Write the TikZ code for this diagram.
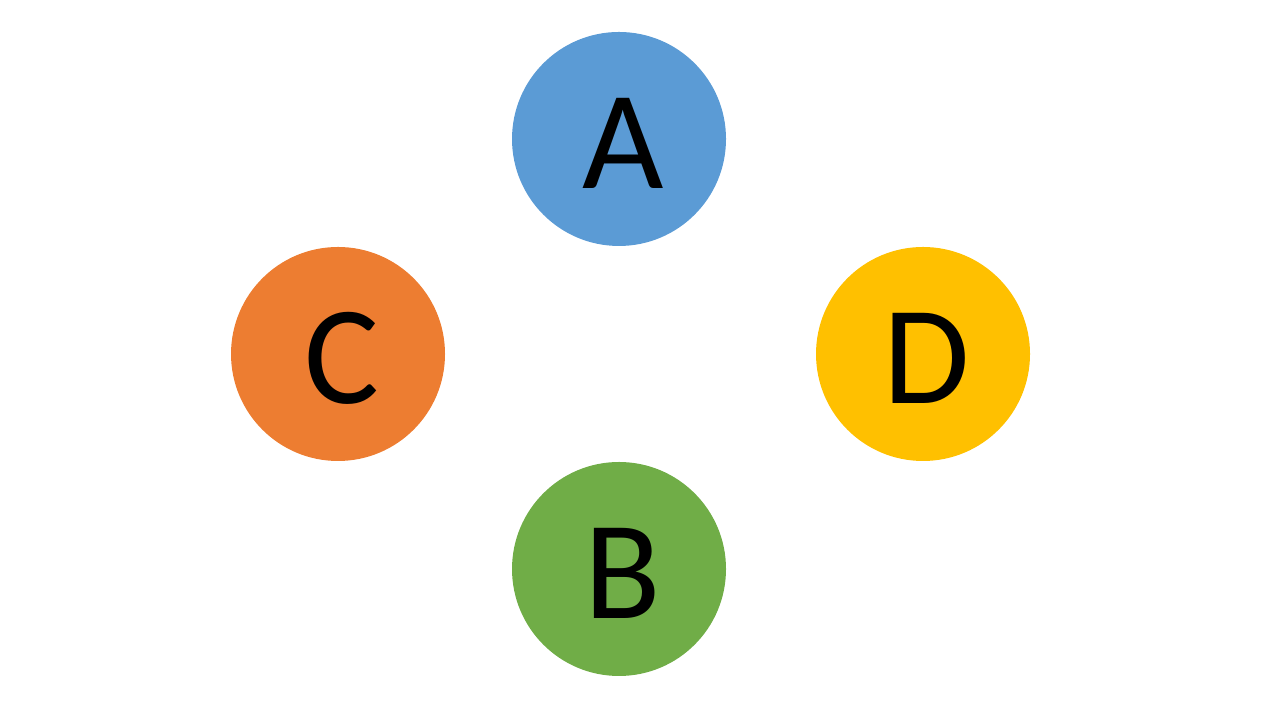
\documentclass[tikz,border=0pt]{standalone}
\usepackage{fontspec}
\setmainfont{Carlito}
\definecolor{bubbleblue}{HTML}{5B9BD5}
\definecolor{bubbleorange}{HTML}{ED7D31}
\definecolor{bubblegold}{HTML}{FFC000}
\definecolor{bubblegreen}{HTML}{70AD47}
\begin{document}
\begin{tikzpicture}[
		bubble/.style={circle, minimum size=2.14cm, inner sep=0pt, text=black,
			text height=0.99cm, text depth=0cm,
			font=\fontsize{40}{40}\selectfont}
	]
		\useasboundingbox (0,0) rectangle (12.8,7.2);
		\foreach \name/\x/\y/\col in {A/6.19/5.81/bubbleblue, C/3.38/3.66/bubbleorange,
			D/9.23/3.66/bubblegold, B/6.19/1.51/bubblegreen} {
			\node[bubble, fill=\col] (\name) at (\x,\y) {\hspace{0.08cm}\name};
		}
	\end{tikzpicture}
\end{document}
